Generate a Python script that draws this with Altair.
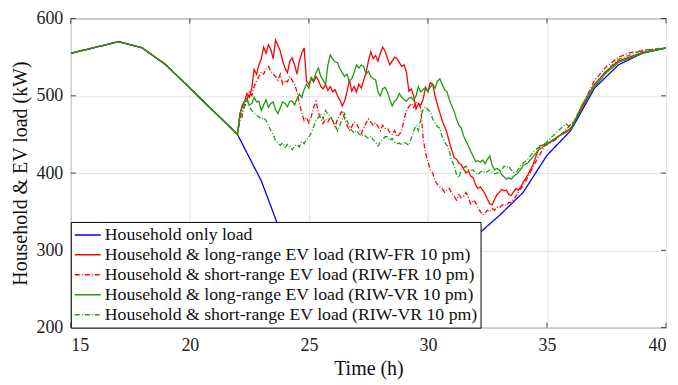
import altair as alt
import pandas as pd

# ---------------- data ----------------
SERIES = [
    "Household only load",
    "Household & long-range EV load (RIW-FR 10 pm)",
    "Household & short-range EV load (RIW-FR 10 pm)",
    "Household & long-range EV load (RIW-VR 10 pm)",
    "Household & short-range EV load (RIW-VR 10 pm)",
]
COLORS = ["#0000ff", "#ff0000", "#ff0000", "#1f9a10", "#1f9a10"]
DASHES = [[1, 0], [1, 0], [5, 2, 1, 2], [1, 0], [5, 2, 1, 2]]

# household only
hh_t = [15, 17, 18, 19, 20, 21, 22, 23, 24, 25, 26, 27, 28, 29, 30, 31, 32, 33, 34, 35, 36, 37, 38, 39, 40]
hh_v = [555, 570, 562, 540, 510, 480, 450, 390, 308, 292, 287, 285, 287, 292, 298, 306, 318, 345, 375, 423, 455, 510, 540, 555, 562]

# common part before EV charging starts
pre_t = [15, 17, 18, 19, 20, 21]
pre_v = [555, 570, 562, 540, 510, 480]

# noisy part, 22.0 .. 34.0 h in 0.1 h steps
rs_v = [450, 475, 488, 493, 503, 498, 510, 534, 528, 540,
        548, 563, 555, 566, 560, 548, 572, 565, 558, 545,
        536, 530, 545, 549, 540, 528, 545, 555, 562, 519,
        515, 522, 518, 525, 520, 512, 509, 515, 507, 512,
        505, 508, 500, 495, 487, 493, 505, 521, 506, 512,
        505, 515, 510, 520, 530, 545, 557, 548, 552, 545,
        555, 563, 558, 548, 540, 545, 550, 548, 543, 538,
        540, 530, 506, 509, 500, 483, 490, 488, 496, 511,
        505, 517, 515, 500, 488, 478, 468, 460, 452, 440,
        430, 420, 418, 413, 411, 405, 400, 403, 396, 394,
        385, 380, 382, 378, 373, 366, 360, 359, 366, 372,
        375, 379, 377, 378, 372, 371, 376, 380, 378, 382,
        388]
rd_v = [450, 470, 480, 486, 495, 505, 500, 512, 519, 525,
        531, 528, 535, 538, 532, 528, 525, 520, 528, 515,
        520, 518, 525, 520, 515, 505, 490, 478, 468, 472,
        465, 473, 485, 493, 478, 470, 464, 470, 466, 473,
        468, 460, 470, 475, 481, 470, 462, 455, 460, 466,
        464, 458, 451, 458, 465, 470, 466, 462, 465, 460,
        455, 462, 458, 458, 452, 450, 455, 447, 450, 455,
        470, 481, 486, 490, 485, 492, 490, 484, 445, 426,
        415, 404, 400, 390, 385, 382, 380, 375, 378, 380,
        374, 370, 365, 372, 368, 370, 375, 368, 360, 365,
        362, 355, 350, 346, 348, 352, 350, 354, 352, 356,
        355, 358, 360, 358, 362, 362, 366, 370, 375, 380,
        384]
gs_v = [450, 477, 485, 493, 496, 488, 490, 498, 492, 493,
        481, 488, 495, 485, 490, 492, 482, 477, 485, 492,
        490, 486, 493, 493, 488, 496, 502, 498, 508, 515,
        510, 524, 520, 530, 536, 525, 520, 515, 540, 553,
        548, 544, 543, 535, 530, 525, 528, 519, 522, 530,
        540, 536, 540, 538, 528, 532, 525, 522, 521, 505,
        500, 509, 511, 505, 495, 487, 493, 496, 503, 498,
        495, 493, 497, 498, 494, 500, 512, 505, 508, 511,
        506, 511, 515, 510, 519, 522, 515, 508, 505, 495,
        487, 480, 470, 462, 458, 448, 441, 435, 428, 422,
        415, 416, 414, 417, 412, 418, 422, 410, 404, 406,
        404, 398, 395, 392, 394, 392, 396, 398, 401, 405,
        410]
gd_v = [450, 468, 473, 490, 496, 485, 481, 478, 475, 473,
        470, 472, 468, 462, 455, 450, 442, 439, 436, 439,
        433, 437, 435, 430, 435, 437, 434, 441, 438, 443,
        447, 452, 460, 468, 472, 477, 470, 481, 476, 473,
        468, 462, 455, 462, 470, 477, 468, 460, 455, 452,
        455, 451, 448, 450, 447, 445, 448, 443, 440, 435,
        440, 444, 447, 447, 442, 445, 440, 438, 439, 436,
        440, 438, 436, 445, 454, 462, 455, 470, 483, 486,
        482, 479, 470, 465, 460, 458, 447, 440, 436, 428,
        416, 410, 398, 394, 405, 407, 409, 405, 403, 404,
        400, 398, 401, 403, 400, 402, 404, 401, 399, 400,
        401, 405, 409, 407, 409, 404, 401, 401, 405, 410,
        413]
fine_t = [round(22 + 0.1 * i, 1) for i in range(len(rs_v))]

# smooth tails
rs_tail_t = [34.2, 34.4, 34.7, 35.1, 35.5, 36.0, 36.5, 37.0, 37.5, 38.0, 39.0, 40.0]
rs_tail_v = [398, 410, 435, 439, 448, 458, 485, 515, 532, 545, 556, 562]
rd_tail_t = [34.2, 34.5, 34.9, 35.35, 35.8, 36.2, 36.6, 37.0, 37.5, 38.0, 38.5, 39.0, 40.0]
rd_tail_v = [395, 413, 435, 443, 456, 470, 495, 520, 538, 550, 556, 558, 562]
gs_tail_t = [34.2, 34.65, 35.05, 35.5, 36.0, 36.5, 37.0, 37.5, 38.0, 39.0, 40.0]
gs_tail_v = [413, 430, 439, 448, 456, 488, 512, 530, 543, 555, 562]
gd_tail_t = [34.2, 34.5, 34.95, 35.35, 35.8, 36.0, 36.5, 37.0, 37.5, 38.0, 39.0, 40.0]
gd_tail_v = [418, 430, 439, 451, 464, 458, 490, 515, 533, 547, 559, 562]

x_ticks = [15, 20, 25, 30, 35, 40]
y_ticks = [200, 300, 400, 500, 600]

# ---------------- table ----------------
rows = []
for t, v in zip(hh_t, hh_v):
    rows.append({"t": t, "v": v, "s": SERIES[0]})
for name, fv, tt, tv in [
    (SERIES[1], rs_v, rs_tail_t, rs_tail_v),
    (SERIES[2], rd_v, rd_tail_t, rd_tail_v),
    (SERIES[3], gs_v, gs_tail_t, gs_tail_v),
    (SERIES[4], gd_v, gd_tail_t, gd_tail_v),
]:
    for t, v in zip(pre_t + fine_t + tt, pre_v + fv + tv):
        rows.append({"t": t, "v": v, "s": name})
df = pd.DataFrame(rows)

FONT = "Liberation Serif"

xscale = alt.Scale(domain=[15, 40], nice=False, zero=False)
yscale = alt.Scale(domain=[200, 600], nice=False, zero=False)

lines = alt.Chart(df).mark_line(strokeWidth=1.3, clip=True).encode(
    x=alt.X("t:Q", scale=xscale,
            axis=alt.Axis(values=x_ticks, title="Time (h)", grid=True, domain=False,
                          ticks=False, labelPadding=9, titlePadding=4, format="d")),
    y=alt.Y("v:Q", scale=yscale,
            axis=alt.Axis(values=y_ticks, title="Household & EV load (kW)", grid=True,
                          domain=False, ticks=False, labelPadding=8, titlePadding=5, format="d")),
    color=alt.Color("s:N", scale=alt.Scale(domain=SERIES, range=COLORS), title=None,
                    sort=SERIES),
    strokeDash=alt.StrokeDash("s:N", scale=alt.Scale(domain=SERIES, range=DASHES), title=None,
                              sort=SERIES),
)

xt = pd.DataFrame({"t": x_ticks})
yt = pd.DataFrame({"v": y_ticks})
tick_bot = alt.Chart(xt).mark_tick(orient="vertical", size=5, thickness=1, color="black", yOffset=-2.5).encode(
    x=alt.X("t:Q", scale=xscale), y=alt.datum(200))
tick_top = alt.Chart(xt).mark_tick(orient="vertical", size=5, thickness=1, color="black", yOffset=2.5).encode(
    x=alt.X("t:Q", scale=xscale), y=alt.datum(600))
tick_left = alt.Chart(yt).mark_tick(orient="horizontal", size=5, thickness=1, color="black", xOffset=2.5).encode(
    y=alt.Y("v:Q", scale=yscale), x=alt.datum(15))
tick_right = alt.Chart(yt).mark_tick(orient="horizontal", size=5, thickness=1, color="black", xOffset=-2.5).encode(
    y=alt.Y("v:Q", scale=yscale), x=alt.datum(40))

chart = alt.layer(lines, tick_bot, tick_top, tick_left, tick_right).properties(
    width=597, height=310,
    autosize=alt.AutoSizeParams(type="none"),
    padding={"left": 63, "top": 10, "right": 4, "bottom": 56},
).configure_view(
    stroke="#6e6e6e", strokeWidth=1
).configure_axis(
    labelFont=FONT, titleFont=FONT, labelFontSize=18, titleFontSize=20,
    labelColor="#222", titleColor="#111", titleFontWeight="normal",
    gridColor="#e3e3e3", gridWidth=1
).configure_legend(
    orient="none", legendX=0, legendY=204,
    fillColor="white", strokeColor="black", strokeWidth=1, padding=3, cornerRadius=0,
    symbolType="stroke", symbolSize=676, symbolStrokeWidth=1.5,
    labelFont=FONT, labelFontSize=17.8, labelColor="#111", labelLimit=0,
    clipHeight=20, rowPadding=0, labelOffset=3,
)

chart.save("out.html", embed_options={"renderer": "svg", "actions": False})
